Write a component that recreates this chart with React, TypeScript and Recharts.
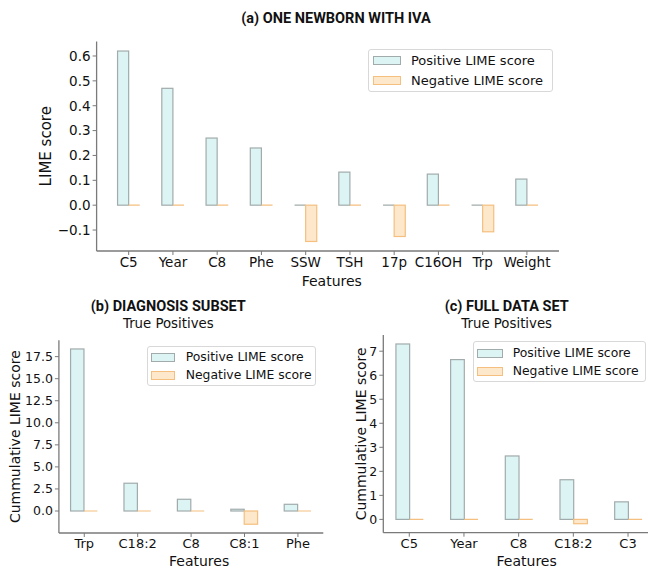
import React from 'react';
import { BarChart, Bar, XAxis, YAxis, Legend } from 'recharts';

// (a) one newborn with IVA
const CATS_A = ['C5', 'Year', 'C8', 'Phe', 'SSW', 'TSH', '17p', 'C16OH', 'Trp', 'Weight'];
const POS_A = [0.62, 0.47, 0.27, 0.23, 0, 0.133, 0, 0.125, 0, 0.105];
const NEG_A = [0, 0, 0, 0, -0.146, 0, -0.126, 0, -0.107, 0];
const TICKS_A = [-0.1, 0, 0.1, 0.2, 0.3, 0.4, 0.5, 0.6];

// (b) diagnosis subset, true positives
const CATS_B = ['Trp', 'C18:2', 'C8', 'C8:1', 'Phe'];
const POS_B = [18.37, 3.15, 1.33, 0.2, 0.76];
const NEG_B = [0, 0, 0, -1.5, 0];
const TICKS_B = [0, 2.5, 5, 7.5, 10, 12.5, 15, 17.5];

// (c) full data set, true positives
const CATS_C = ['C5', 'Year', 'C8', 'C18:2', 'C3'];
const POS_C = [7.3, 6.65, 2.64, 1.65, 0.73];
const NEG_C = [0, 0, 0, -0.18, 0];
const TICKS_C = [0, 1, 2, 3, 4, 5, 6, 7];

const SERIES = [
  { key: 'pos', name: 'Positive LIME score', fill: '#dcf4f4', stroke: '#a2abab' },
  { key: 'neg', name: 'Negative LIME score', fill: '#fde8cc', stroke: '#f4bf7f' },
];

const AXIS = '#7a7a7a';
const FONT = 'DejaVu Sans, sans-serif';

// matplotlib-ish 5% autoscale margins
const pad = (lo: number, hi: number) => {
  const r = hi - lo;
  return [lo - 0.05 * r, hi + 0.05 * r];
};

const minus = (s: string) => s.replace('-', '\u2212');

const BarShape = (props: any) => {
  const { x, y, width, height, fill, stroke } = props;
  if (x == null || y == null) return null;
  if (!height) {
    return <line x1={x} x2={x + width} y1={y} y2={y} stroke={stroke} strokeWidth={1.2} />;
  }
  const top = height < 0 ? y + height : y;
  return (
    <rect x={x} y={top} width={width} height={Math.abs(height)} fill={fill} stroke={stroke} strokeWidth={1.2} />
  );
};

function LegendBox({ w, h, padTop, patchX, patchW, patchH, textX, rowH, fontSize }: any) {
  return (
    <div
      style={{
        width: w,
        height: h,
        boxSizing: 'border-box',
        border: '1px solid #d8d8d8',
        borderRadius: 3,
        background: 'rgba(255,255,255,0.85)',
        paddingTop: padTop,
      }}
    >
      {SERIES.map((s) => (
        <div key={s.key} style={{ display: 'flex', alignItems: 'center', height: rowH }}>
          <span
            style={{
              display: 'inline-block',
              marginLeft: patchX,
              width: patchW,
              height: patchH,
              boxSizing: 'border-box',
              background: s.fill,
              border: `1px solid ${s.stroke}`,
            }}
          />
          <span
            style={{
              marginLeft: textX - patchX - patchW,
              fontFamily: FONT,
              fontSize,
              color: '#111',
              lineHeight: 1,
              whiteSpace: 'nowrap',
            }}
          >
            {s.name}
          </span>
        </div>
      ))}
    </div>
  );
}

function Panel(p: any) {
  const data = p.cats.map((c: string, i: number) => ({ idx: i, name: c, pos: p.pos[i], neg: p.neg[i] }));
  const yDom = pad(Math.min(0, ...p.neg), Math.max(...p.pos));
  const xDom = pad(-0.25, p.cats.length - 1 + 0.25);
  const yTickStyle = { fontFamily: FONT, fontSize: p.yTickSize, fill: '#111' };
  const xTickStyle = { fontFamily: FONT, fontSize: p.xTickSize, fill: '#111' };
  const labelStyle = (fs: number) => ({ fontFamily: FONT, fontSize: fs, fill: '#111', textAnchor: 'middle' as const });
  return (
    <div style={{ position: 'absolute', left: p.left, top: p.top }}>
      <BarChart width={p.width} height={p.height} data={data} margin={p.margin} barGap={0}>
        <XAxis
          type="number"
          dataKey="idx"
          domain={xDom}
          ticks={p.cats.map((_: string, i: number) => i)}
          tickFormatter={(i: number) => p.cats[i]}
          interval={0}
          allowDataOverflow
          height={p.xHeight}
          tick={xTickStyle}
          tickSize={4}
          tickMargin={2}
          axisLine={{ stroke: AXIS, strokeWidth: 1.3 }}
          tickLine={{ stroke: AXIS }}
          label={{
            value: 'Features',
            position: 'insideBottom',
            offset: p.xLabelOffset,
            dx: p.xLabelDx,
            style: labelStyle(p.xLabelSize),
          }}
        />
        <YAxis
          type="number"
          domain={yDom}
          ticks={p.yTicks}
          tickFormatter={p.fmt}
          interval={0}
          allowDataOverflow
          width={p.yWidth}
          tick={yTickStyle}
          tickSize={4}
          tickMargin={2}
          axisLine={{ stroke: AXIS, strokeWidth: 1.3 }}
          tickLine={{ stroke: AXIS }}
          label={{
            value: p.yLabel,
            angle: -90,
            position: 'insideLeft',
            offset: p.yLabelOffset,
            style: labelStyle(p.yLabelSize),
          }}
        />
        <Legend
          layout="vertical"
          align="center"
          verticalAlign="middle"
          wrapperStyle={{ left: p.legend.x - p.left, top: p.legend.y - p.top, width: p.legend.w }}
          content={() => <LegendBox {...p.legend} />}
        />
        {SERIES.map((s) => (
          <Bar
            key={s.key}
            dataKey={s.key}
            name={s.name}
            fill={s.fill}
            stroke={s.stroke}
            barSize={p.barSize}
            shape={BarShape}
            isAnimationActive={false}
          />
        ))}
      </BarChart>
    </div>
  );
}

const titleStyle = { fontFamily: 'Roboto, sans-serif', fontWeight: 700, fontSize: 14.5, fill: '#111' };
const subStyle = { fontFamily: FONT, fontSize: 13.3, fill: '#111' };

export default function App() {
  return (
    <div style={{ position: 'absolute', left: 0, top: 0, width: 648, height: 570, overflow: 'hidden', background: '#fff' }}>
      <Panel
        left={0}
        top={0}
        width={648}
        height={295}
        margin={{ top: 41.5, right: 89, bottom: 4, left: 0 }}
        yWidth={96.6}
        xHeight={40}
        cats={CATS_A}
        pos={POS_A}
        neg={NEG_A}
        yTicks={TICKS_A}
        fmt={(v: number) => minus(v.toFixed(1))}
        barSize={11.1}
        yTickSize={13.5}
        xTickSize={13.5}
        yLabel="LIME score"
        yLabelSize={15}
        yLabelOffset={46}
        xLabelSize={14}
        xLabelOffset={5}
        xLabelDx={4}
        legend={{ x: 368.3, y: 49.3, w: 184.4, h: 42.4, padTop: 0.6, patchX: 4, patchW: 27.4, patchH: 9.3, textX: 41.7, rowH: 19.6, fontSize: 13 }}
      />
      <Panel
        left={0}
        top={290}
        width={330}
        height={280}
        margin={{ top: 50.2, right: 6.7, bottom: 2, left: 0 }}
        yWidth={58.9}
        xHeight={35}
        cats={CATS_B}
        pos={POS_B}
        neg={NEG_B}
        yTicks={TICKS_B}
        fmt={(v: number) => v.toFixed(1)}
        barSize={13.4}
        yTickSize={12.5}
        xTickSize={13}
        yLabel="Cummulative LIME score"
        yLabelSize={14}
        yLabelOffset={14.7}
        xLabelSize={14}
        xLabelOffset={2}
        xLabelDx={8}
        legend={{ x: 146.7, y: 346, w: 169.3, h: 40, padTop: 1.5, patchX: 3.3, patchW: 24, patchH: 8.6, textX: 38, rowH: 18, fontSize: 12.4 }}
      />
      <Panel
        left={330}
        top={290}
        width={330}
        height={280}
        margin={{ top: 45, right: 6, bottom: 2.3, left: 0 }}
        yWidth={53.3}
        xHeight={35}
        cats={CATS_C}
        pos={POS_C}
        neg={NEG_C}
        yTicks={TICKS_C}
        fmt={(v: number) => String(v)}
        barSize={13.7}
        yTickSize={12.5}
        xTickSize={13}
        yLabel="Cummulative LIME score"
        yLabelSize={14}
        yLabelOffset={30.8}
        xLabelSize={14}
        xLabelOffset={2}
        xLabelDx={8}
        legend={{ x: 472.7, y: 341, w: 173.3, h: 41.3, padTop: 2.2, patchX: 3, patchW: 26, patchH: 9, textX: 39, rowH: 18, fontSize: 12.4 }}
      />
      <svg width={648} height={570} style={{ position: 'absolute', left: 0, top: 0, pointerEvents: 'none' }}>
        <text x={336} y={22.7} textAnchor="middle" style={titleStyle}>(a) ONE NEWBORN WITH IVA</text>
        <text x={168.3} y={311} textAnchor="middle" style={titleStyle}>(b) DIAGNOSIS SUBSET</text>
        <text x={168.3} y={328.3} textAnchor="middle" style={subStyle}>True Positives</text>
        <text x={506.7} y={311} textAnchor="middle" style={titleStyle}>(c) FULL DATA SET</text>
        <text x={506.7} y={328.3} textAnchor="middle" style={subStyle}>True Positives</text>
      </svg>
    </div>
  );
}
